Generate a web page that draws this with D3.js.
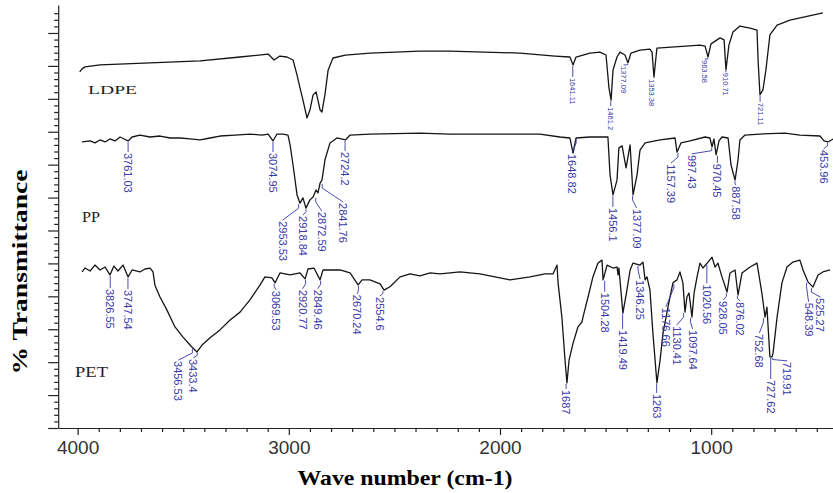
<!DOCTYPE html>
<html>
<head>
<meta charset="utf-8">
<script src="https://cdn.jsdelivr.net/npm/d3@7"></script>
<style>
  body { margin: 0; background: #fff; }
  svg { display: block; }
  .axis path, .axis line { stroke: #222; stroke-width: 1.2; }
  .axis text { font-family: "Liberation Sans", Arial, sans-serif; fill: #333; }
  .spectrum { fill: none; stroke: #151515; stroke-width: 1.3; stroke-linejoin: round; }
  .peak text { fill: #3838a8; font-family: "Liberation Sans", Arial, sans-serif; }
  .peak path { fill: none; stroke: #3838a8; stroke-width: 0.9; }
</style>
</head>
<body>
<svg id="chart" width="833" height="493"></svg>
<script>
// spectra: [wave number cm-1, stacked % transmittance]
const ldpe = [
  [3990,108.2],[3979,109.1],[3965,109.7],[3894,110.3],[3657,110.9],[3420,111.5],[3231,112.7],
  [3098,113.6],[3070,111.8],[3042,113.0],[3009,112.7],[2980,111.8],[2961,107.2],[2947,103.3],
  [2933,99.6],[2914,94.2],[2900,96.6],[2885,101.2],[2871,102.1],[2862,99.6],[2852,96.6],
  [2843,96.0],[2829,101.2],[2814,108.7],[2791,112.4],[2732,113.3],[2616,113.9],[2379,114.5],
  [2237,114.5],[1905,113.9],[1740,113.0],[1669,112.7],[1654,110.3],[1640,112.7],[1574,113.9],
  [1527,114.2],[1498,113.3],[1484,103.3],[1474,99.6],[1465,108.7],[1446,112.7],[1432,114.2],
  [1408,113.3],[1394,110.9],[1380,113.9],[1337,114.8],[1290,115.1],[1280,114.2],[1271,106.6],
  [1257,115.4],[1053,116.3],[1029,116.0],[1015,112.7],[1001,116.7],[958,118.5],[939,117.9],
  [930,108.8],[916,116.3],[897,120.3],[864,122.1],[816,121.5],[783,120.9],[778,111.8],
  [769,101.2],[755,102.7],[741,108.7],[722,119.4],[688,122.4],[627,123.9],[471,126.1]
];
const pp = [
  [3979,86.9],[3941,87.2],[3918,86.6],[3894,87.5],[3870,86.9],[3847,87.8],[3823,87.2],
  [3799,88.4],[3780,87.8],[3761,87.2],[3742,88.4],[3705,89.0],[3657,88.4],[3610,88.7],
  [3562,88.1],[3515,88.1],[3468,87.8],[3420,87.5],[3373,88.1],[3326,88.7],[3255,89.0],
  [3184,89.3],[3127,89.0],[3098,89.3],[3075,87.2],[3056,89.3],[3027,89.3],[3004,89.0],
  [2994,86.0],[2980,79.9],[2961,70.8],[2947,68.3],[2933,69.9],[2919,66.8],[2900,69.3],
  [2885,70.2],[2871,72.3],[2862,71.4],[2852,74.4],[2843,75.3],[2829,81.4],[2805,86.6],
  [2772,88.1],[2732,87.5],[2710,89.0],[2616,89.3],[2379,89.6],[2237,89.3],[1811,89.3],
  [1716,88.4],[1669,88.1],[1654,83.5],[1640,88.1],[1574,88.4],[1489,88.4],[1479,76.9],
  [1465,70.8],[1446,75.3],[1437,85.1],[1422,85.7],[1403,79.0],[1384,86.0],[1370,70.8],
  [1351,76.9],[1337,84.4],[1313,86.6],[1242,87.5],[1171,88.1],[1162,83.8],[1143,86.6],
  [1100,87.2],[1029,88.4],[1006,88.1],[996,85.4],[987,87.8],[977,83.0],[963,87.2],
  [949,88.4],[920,88.1],[906,79.9],[887,75.3],[873,81.4],[864,87.5],[840,89.0],[769,89.3],
  [651,89.6],[580,89.0],[485,88.7],[466,87.2],[447,86.9],[423,87.8]
];
const pet = [
  [3979,47.4],[3965,48.6],[3941,47.7],[3918,49.5],[3894,48.0],[3870,48.9],[3847,46.5],
  [3828,49.2],[3809,47.7],[3785,49.5],[3761,45.9],[3742,48.0],[3705,47.4],[3681,48.3],
  [3657,48.6],[3643,47.4],[3634,43.4],[3610,39.8],[3577,35.8],[3539,30.7],[3501,27.6],
  [3468,25.2],[3454,24.3],[3435,23.1],[3411,25.2],[3373,27.4],[3326,29.8],[3278,32.8],
  [3231,35.2],[3184,38.9],[3136,43.5],[3113,45.9],[3080,45.6],[3065,44.1],[3042,47.1],
  [2994,46.5],[2947,47.1],[2923,45.3],[2909,48.3],[2881,48.6],[2852,45.0],[2838,48.0],
  [2758,48.0],[2710,47.1],[2672,43.5],[2653,45.0],[2616,45.0],[2568,43.8],[2549,41.9],
  [2521,42.9],[2473,45.9],[2426,46.8],[2379,46.2],[2331,47.1],[2284,46.8],[2189,47.4],
  [2095,46.8],[2000,45.6],[1953,45.0],[1858,45.9],[1787,46.8],[1749,46.8],[1730,49.5],
  [1725,44.1],[1707,33.7],[1692,20.6],[1683,13.7],[1673,20.6],[1654,25.8],[1631,30.7],
  [1612,32.2],[1607,33.7],[1583,39.8],[1560,45.9],[1536,50.1],[1517,51.0],[1512,45.0],
  [1493,49.5],[1465,48.6],[1446,48.9],[1441,46.5],[1437,48.6],[1418,34.9],[1399,41.9],
  [1384,48.0],[1370,50.1],[1337,49.5],[1323,50.4],[1313,45.0],[1304,45.9],[1290,41.9],
  [1276,28.9],[1257,13.7],[1242,20.6],[1228,28.9],[1209,35.2],[1195,39.8],[1181,44.1],
  [1162,45.0],[1148,47.4],[1134,44.1],[1124,35.2],[1115,39.8],[1105,41.0],[1091,33.7],
  [1081,41.0],[1067,45.9],[1053,50.1],[1039,48.6],[1015,50.4],[996,51.9],[982,48.9],
  [968,50.1],[949,45.9],[925,41.3],[911,47.1],[887,48.0],[873,40.4],[854,47.1],[816,48.9],
  [783,50.1],[760,41.0],[745,33.7],[736,36.7],[722,21.6],[712,21.6],[707,22.8],[688,33.7],
  [665,44.1],[641,48.9],[613,50.4],[580,51.0],[565,48.0],[542,44.4],[518,42.8],[494,46.5],
  [471,47.4],[437,48.0]
];

// peak labels printed on each trace
const ldpePeaks = ["1641.11", "1461.2", "1377.09", "1353.38", "963.58", "910.71", "721.11"];
const ppPeaks = ["3761.03", "3074.95", "2953.53", "2918.84", "2872.59", "2841.76", "2724.2",
  "1648.82", "1456.1", "1377.09", "1157.39", "997.43", "970.45", "887.58", "453.96"];
const petPeaks = ["3826.55", "3747.54", "3456.53", "3433.4", "3069.53", "2920.77", "2849.46",
  "2670.24", "2554.6", "1687", "1504.28", "1419.49", "1346.25", "1263", "1176.66", "1130.41",
  "1097.64", "1020.56", "928.05", "876.02", "752.68", "727.62", "719.91", "548.39", "525.27"];

const seriesNames = ["LDPE", "PP", "PET"];
const xMajorTicks = [4000, 3000, 2000, 1000];

// label placement: [anchor nudge px, leader length px, text shift px]
const ldpeLayout = [[-3, 12, 0], [-3, 6, 0], [-4, 2, -4], [15, 1, 0], [-11, 2, -3], [-4, 2, -1], [-10, 7, 0]];
const ppLayout = [[0, 11, 0], [0, 11, 0], [0, 17, -16], [0, 7, -3], [0, 14, 6], [0, 19, 21], [-2, 11, 0],
  [2, 15, -4], [-2, 12, 0], [1, 13, 4], [0, 11, -7], [0, 7, -20], [0, 8, 0], [0, 5, 1], [1, 7, -4]];
const petLayout = [[-4, 13, 0], [-3, 12, 0], [0, 12, -14], [0, 6, -4], [0, 7, 2], [0, 10, -3], [0, 9, -3],
  [0, 9, -1], [0, 6, -3], [0, 6, 0], [0, 12, 0], [0, 16, 0], [0, 14, 2], [1, 10, 0], [0, 24, -8],
  [0, 13, -7], [0, 12, 2], [0, 20, 0], [0, 8, -3], [0, 6, 3], [0, 16, -4], [2, 22, 0], [2, 4, 15],
  [0, 20, 2], [0, 10, 9]];

const svg = d3.select("#chart");

const x = d3.scaleLinear().domain([4092, 400]).range([58.2, 837.9]);
const y = d3.scaleLinear().domain([0, 128.5]).range([428, 5]);

// axes
svg.append("g")
    .attr("class", "axis")
    .attr("transform", "translate(0," + y(0) + ")")
    .call(d3.axisBottom(x).tickValues(d3.range(4000, 399, -100).filter(v => v % 1000)).tickSize(4).tickFormat(""))
    .call(g => g.select(".domain").remove());
svg.append("g")
    .attr("class", "axis")
    .attr("transform", "translate(0," + y(0) + ")")
    .call(d3.axisBottom(x).tickValues(xMajorTicks).tickSize(7).tickSizeOuter(0).tickPadding(6)
        .tickFormat(d3.format("d")))
    .call(g => g.selectAll("text").attr("font-size", 19));

svg.append("g")
    .attr("class", "axis")
    .attr("transform", "translate(" + x(4092) + ",0)")
    .call(d3.axisLeft(y).tickValues(d3.range(0, 128, 2).filter(v => v % 10)).tickSize(4).tickFormat(""))
    .call(g => g.select(".domain").remove());
svg.append("g")
    .attr("class", "axis")
    .attr("transform", "translate(" + x(4092) + ",0)")
    .call(d3.axisLeft(y).tickValues(d3.range(0, 121, 10)).tickSize(10).tickSizeOuter(0).tickFormat(""));

// axis titles
svg.append("text")
    .attr("x", 405).attr("y", 485)
    .attr("text-anchor", "middle")
    .attr("font-family", "'Liberation Serif', 'Times New Roman', serif")
    .attr("font-weight", "bold").attr("font-size", 21)
    .attr("textLength", 215).attr("lengthAdjust", "spacingAndGlyphs")
    .text("Wave number (cm-1)");
svg.append("text")
    .attr("transform", "translate(27,272) rotate(-90)")
    .attr("text-anchor", "middle")
    .attr("font-family", "'Liberation Serif', 'Times New Roman', serif")
    .attr("font-weight", "bold").attr("font-size", 22)
    .attr("textLength", 205).attr("lengthAdjust", "spacingAndGlyphs")
    .text("% Transmittance");

// traces
const line = d3.line().x(d => x(d[0])).y(d => y(d[1]));
[ldpe, pp, pet].forEach(s => {
    svg.append("path").attr("class", "spectrum").attr("d", line(s));
});

// series names
const nameSpots = [[88, 94, 49, 13], [82, 222, 18, 14], [75, 377, 33, 15]];
seriesNames.forEach((n, i) => {
    const [tx, ty, w, fs] = nameSpots[i];
    svg.append("text")
        .attr("x", tx).attr("y", ty)
        .attr("font-family", "'Liberation Serif', 'Times New Roman', serif")
        .attr("font-size", fs).attr("fill", "#222")
        .attr("textLength", w).attr("lengthAdjust", "spacingAndGlyphs")
        .text(n);
});

// value of a trace at a wave number (linear between read points)
function valueAt(series, w) {
    for (let i = 1; i < series.length; i++) {
        const a = series[i - 1], b = series[i];
        if (w <= a[0] && w >= b[0]) {
            const t = (a[0] - w) / (a[0] - b[0]);
            return a[1] + t * (b[1] - a[1]);
        }
    }
    return series[series.length - 1][1];
}

function drawPeaks(series, peaks, layout, fontSize) {
    const g = svg.append("g").attr("class", "peak");
    peaks.forEach((p, i) => {
        const [dx, lead, tdx] = layout[i];
        const ax = x(+p) + dx;
        const near = series.filter(d => Math.abs(x(d[0]) - ax) <= 3);
        const v = Math.min(valueAt(series, x.invert(ax)), near.length ? d3.min(near, d => d[1]) : Infinity);
        const ay = y(v) + 1;
        const tx = ax + tdx, ty = ay + lead;
        if (lead > 1) {
            const bend = tdx ? Math.min(4, lead * 0.4) : 0;
            g.append("path").attr("d", d3.line()([[ax, ay], [ax, ay + bend], [tx, ty - 1]]));
        }
        g.append("text")
            .attr("transform", "translate(" + tx + "," + ty + ") rotate(90)")
            .attr("dominant-baseline", "central")
            .attr("font-size", fontSize)
            .text(p);
    });
}

drawPeaks(ldpe, ldpePeaks, ldpeLayout, 7.5);
drawPeaks(pp, ppPeaks, ppLayout, 11);
drawPeaks(pet, petPeaks, petLayout, 11);
</script>
</body>
</html>
